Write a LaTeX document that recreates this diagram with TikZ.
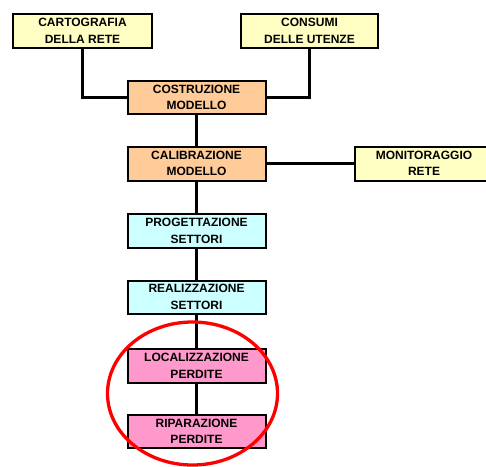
\documentclass[tikz,border=0pt]{standalone}
\usepackage{fontspec}
\setmainfont{Liberation Sans}
\usetikzlibrary{shadows,shapes.geometric}
\definecolor{boxyellow}{HTML}{FFFFC4}
\definecolor{boxorange}{HTML}{FFCC99}
\definecolor{boxcyan}{HTML}{CCFFFF}
\definecolor{boxpink}{HTML}{FF99CC}
\definecolor{ringred}{HTML}{FF0000}
\tikzset{
  stepbox/.style={draw=black, line width=2pt, minimum height=33pt,
    minimum width=138pt, inner sep=0pt, align=center,
    font=\fontsize{12}{16.5}\selectfont\bfseries,
    drop shadow={shadow xshift=1.4pt, shadow yshift=-1.4pt, fill=black, opacity=1}},
  link/.style={draw=black, line width=2.1pt},
}
\begin{document}
\begin{tikzpicture}[x=1pt,y=-1pt]
\useasboundingbox (0,0) rectangle (486,466);
\clip (0,0) rectangle (486,466);

% input boxes
\node[stepbox, fill=boxyellow, minimum width=139pt, minimum height=34pt] (carto) at (82.5,31) {CARTOGRAFIA\\DELLA RETE};
\node[stepbox, fill=boxyellow, minimum width=137pt, minimum height=34pt] (consumi) at (309.5,31) {CONSUMI\\DELLE UTENZE};

% model
\node[stepbox, fill=boxorange] (costr) at (196.5,97.5) {COSTRUZIONE\\MODELLO};
\node[stepbox, fill=boxorange, minimum height=34pt] (calib) at (196.5,163.5) {CALIBRAZIONE\\MODELLO};
\node[stepbox, fill=boxyellow, minimum height=34pt] (monit) at (424,163.5) {MONITORAGGIO\\RETE};

% sectors
\node[stepbox, fill=boxcyan, minimum height=34pt] (prog) at (196.5,231) {PROGETTAZIONE\\SETTORI};
\node[stepbox, fill=boxcyan] (real) at (196.5,297) {REALIZZAZIONE\\SETTORI};

% leaks
\node[stepbox, fill=boxpink, minimum height=34pt] (local) at (196.5,366) {LOCALIZZAZIONE\\PERDITE};
\node[stepbox, fill=boxpink] (ripar) at (196.5,431.5) {RIPARAZIONE\\PERDITE};

% connectors
\path[link] (carto.south) |- (costr.west);
\path[link] (consumi.south) |- (costr.east);
\path[link] (costr) -- (calib);
\path[link] (calib) -- (monit);
\path[link] (calib) -- (prog);
\path[link] (prog) -- (real);
\path[link] (real) -- (local);
\path[link] (local) -- (ripar);

% highlight ring
\node[draw=ringred, line width=3.3pt, ellipse, minimum width=170pt, minimum height=143pt, inner sep=0pt] (ring) at (192.5,393.5) {};
\end{tikzpicture}
\end{document}
